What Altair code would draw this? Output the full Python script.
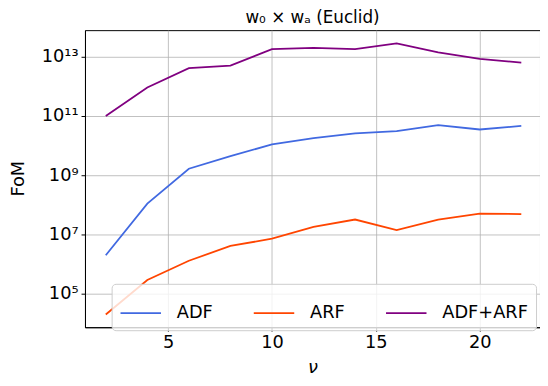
import altair as alt
import pandas as pd

nu = [2, 4, 6, 8, 10, 12, 14, 16, 18, 20, 22]
adf = [2.0e6, 1.1e8, 1.66e9, 4.4e9, 1.1e10, 1.8e10, 2.6e10, 3.1e10, 4.9e10, 3.5e10, 4.6e10]
arf = [2.0e4, 2.9e5, 1.3e6, 4.1e6, 7.2e6, 1.8e7, 3.2e7, 1.4e7, 3.2e7, 5.1e7, 4.9e7]
both = [1.0e11, 9.2e11, 4.1e12, 5.0e12, 1.8e13, 2.0e13, 1.8e13, 2.8e13, 1.4e13, 8.5e12, 6.3e12]

series = ["ADF", "ARF", "ADF+ARF"]
colors = ["#4169E1", "#FF4500", "#800080"]

y_ticks = [1e5, 1e7, 1e9, 1e11, 1e13]
y_labels = ["10⁵", "10⁷", "10⁹", "10¹¹", "10¹³"]
x_ticks = [5, 10, 15, 20]

rows = []
for name, vals in zip(series, [adf, arf, both]):
    for x, v in zip(nu, vals):
        rows.append({"nu": x, "FoM": v, "series": name})
df = pd.DataFrame(rows)

label_expr = ""
for v, l in zip(y_ticks, y_labels):
    label_expr += f"abs(datum.value - {v:g}) < {v * 0.01:g} ? '{l}' : "
label_expr += "''"

FONT = "DejaVu Sans"
FS = 18

chart = alt.Chart(df).mark_line(strokeWidth=1.8).encode(
    x=alt.X("nu:Q", scale=alt.Scale(domain=[1, 22.9], nice=False, zero=False),
            axis=alt.Axis(values=x_ticks, title="ν", titleFontStyle="italic",
                          titleFontWeight="normal", titlePadding=7)),
    y=alt.Y("FoM:Q", scale=alt.Scale(type="log", domain=[7.4e3, 7.9e13], nice=False),
            axis=alt.Axis(values=y_ticks, labelExpr=label_expr, title="FoM",
                          titleFontWeight="normal", titleX=-58, titleY=150,
                          titleBaseline="bottom")),
    color=alt.Color("series:N", scale=alt.Scale(domain=series, range=colors),
                    legend=alt.Legend(title=None, orient="none", legendX=27, legendY=257,
                                      direction="horizontal", columns=3, columnPadding=37,
                                      symbolType="stroke", symbolSize=1681,
                                      symbolStrokeWidth=1.8, labelFontSize=FS, labelFont=FONT,
                                      labelOffset=15, padding=8, labelColor="black",
                                      fillColor="rgba(255,255,255,0.8)",
                                      strokeColor="#cccccc", cornerRadius=4)),
    detail="series:N",
).properties(
    width=461, height=301,
    title=alt.TitleParams("w₀ × wₐ (Euclid)", font=FONT, fontSize=17,
                          fontWeight="normal", offset=3, color="black"),
    autosize=alt.AutoSizeParams(type="none"),
    padding={"left": 78, "top": 20, "right": 0, "bottom": 50},
).configure_axis(
    labelFont=FONT, labelFontSize=FS, titleFont=FONT, titleFontSize=FS,
    labelColor="black", titleColor="black",
    domainColor="black", tickColor="black", tickSize=4,
    gridColor="#b0b0b0", gridWidth=0.8, labelPadding=3,
).configure_view(stroke="black", strokeWidth=1)

chart.save("out.html", embed_options={"renderer": "svg", "actions": False})
